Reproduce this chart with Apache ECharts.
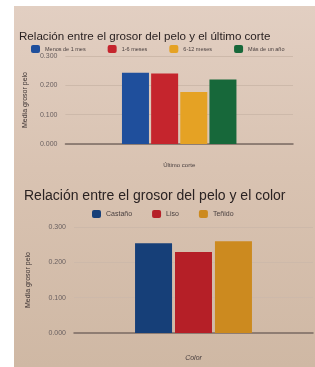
<!DOCTYPE html>
<html>
<head>
<meta charset="UTF-8">
<title></title>
<script src="https://cdn.jsdelivr.net/npm/echarts@6/dist/echarts.min.js"></script>
<style>
  body { margin: 0; background: #fff; }
  #paper { position: absolute; left: 14px; top: 6px; width: 301px; height: 361px;
           background: linear-gradient(180deg, #e2cfc2 0%, #d9c3b2 45%, #cfb8a4 100%); }
  #c1 { position: absolute; left: 14px; top: 0; width: 301px; height: 175px; }
  #c2 { position: absolute; left: 14px; top: 175px; width: 301px; height: 192px; }
</style>
</head>
<body>
<div id="paper"></div>
<div id="c1"></div>
<div id="c2"></div>
<script type="text/javascript">
    // datos del primer gráfico: último corte
    var corteNombres = ['Menos de 1 mes', '1-6 meses', '6-12 meses', 'Más de un año'];
    var corteValores = [0.243, 0.240, 0.177, 0.220];
    var corteColores = ['#1f4f9c', '#c5252d', '#e5a224', '#17683a'];

    // datos del segundo gráfico: color
    var colorNombres = ['Castaño', 'Liso', 'Teñido'];
    var colorValores = [0.254, 0.229, 0.260];
    var colorColores = ['#163f78', '#b51f27', '#cc8a1f'];

    var yTicks = [0, 0.1, 0.2, 0.3];

    function hacerSeries(nombres, valores, colores, ancho) {
        var s = [];
        for (var i = 0; i < nombres.length; i++) {
            s.push({
                name: nombres[i],
                type: 'bar',
                data: [valores[i]],
                barWidth: ancho,
                barGap: '8%',
                itemStyle: { color: colores[i] }
            });
        }
        return s;
    }

    function ejeY(nombre, gap) {
        return {
            type: 'value', min: yTicks[0], max: yTicks[yTicks.length - 1], interval: 0.1,
            name: nombre, nameLocation: 'middle', nameGap: gap, nameRotate: 90,
            nameTextStyle: { color: '#3a3030', fontSize: 7 },
            axisLabel: { color: '#6a6060', fontSize: 7, formatter: function (v) { return v.toFixed(3); } },
            axisLine: { show: false }, axisTick: { show: false },
            splitLine: { lineStyle: { color: '#cdb9aa', width: 1 } }
        };
    }

    var chart1 = echarts.init(document.getElementById('c1'));
    chart1.setOption({
        animation: false,
        textStyle: { fontFamily: 'Liberation Sans, Arial, sans-serif' },
        title: { text: 'Relación entre el grosor del pelo y el último corte', left: 0, top: 26,
                 textStyle: { fontSize: 11.6, fontWeight: 'normal', color: '#2a2222' } },
        legend: { data: corteNombres, left: 12, top: 40, itemWidth: 9, itemHeight: 8, itemGap: 22,
                  textStyle: { fontSize: 5.5, color: '#4a4040' } },
        grid: { left: 44, right: 22, top: 56, bottom: 31 },
        xAxis: { type: 'category', data: [''], name: 'Último corte', nameLocation: 'middle', nameGap: 18,
                 nameTextStyle: { color: '#4a4040', fontSize: 6 },
                 axisLine: { lineStyle: { color: '#7a6a62', width: 1.5 } }, axisTick: { show: false },
                 axisLabel: { show: false } },
        yAxis: ejeY('Media grosor pelo', 32),
        series: hacerSeries(corteNombres, corteValores, corteColores, 27)
    });

    var chart2 = echarts.init(document.getElementById('c2'));
    chart2.setOption({
        animation: false,
        textStyle: { fontFamily: 'Liberation Sans, Arial, sans-serif' },
        title: { text: 'Relación entre el grosor del pelo y el color', left: 5, top: 9,
                 textStyle: { fontSize: 14, fontWeight: 'normal', color: '#2a2222' } },
        legend: { data: colorNombres, left: 73, top: 30, itemWidth: 9, itemHeight: 8, itemGap: 20,
                  textStyle: { fontSize: 7, color: '#4a4040' } },
        grid: { left: 60, right: 2, top: 52, bottom: 34 },
        xAxis: { type: 'category', data: [''], name: 'Color', nameLocation: 'middle', nameGap: 22,
                 nameTextStyle: { color: '#4a4040', fontSize: 7, fontStyle: 'italic' },
                 axisLine: { lineStyle: { color: '#7a6a62', width: 1.5 } }, axisTick: { show: false },
                 axisLabel: { show: false } },
        yAxis: ejeY('Media grosor pelo', 42),
        series: hacerSeries(colorNombres, colorValores, colorColores, 37)
    });
</script>
</body>
</html>
